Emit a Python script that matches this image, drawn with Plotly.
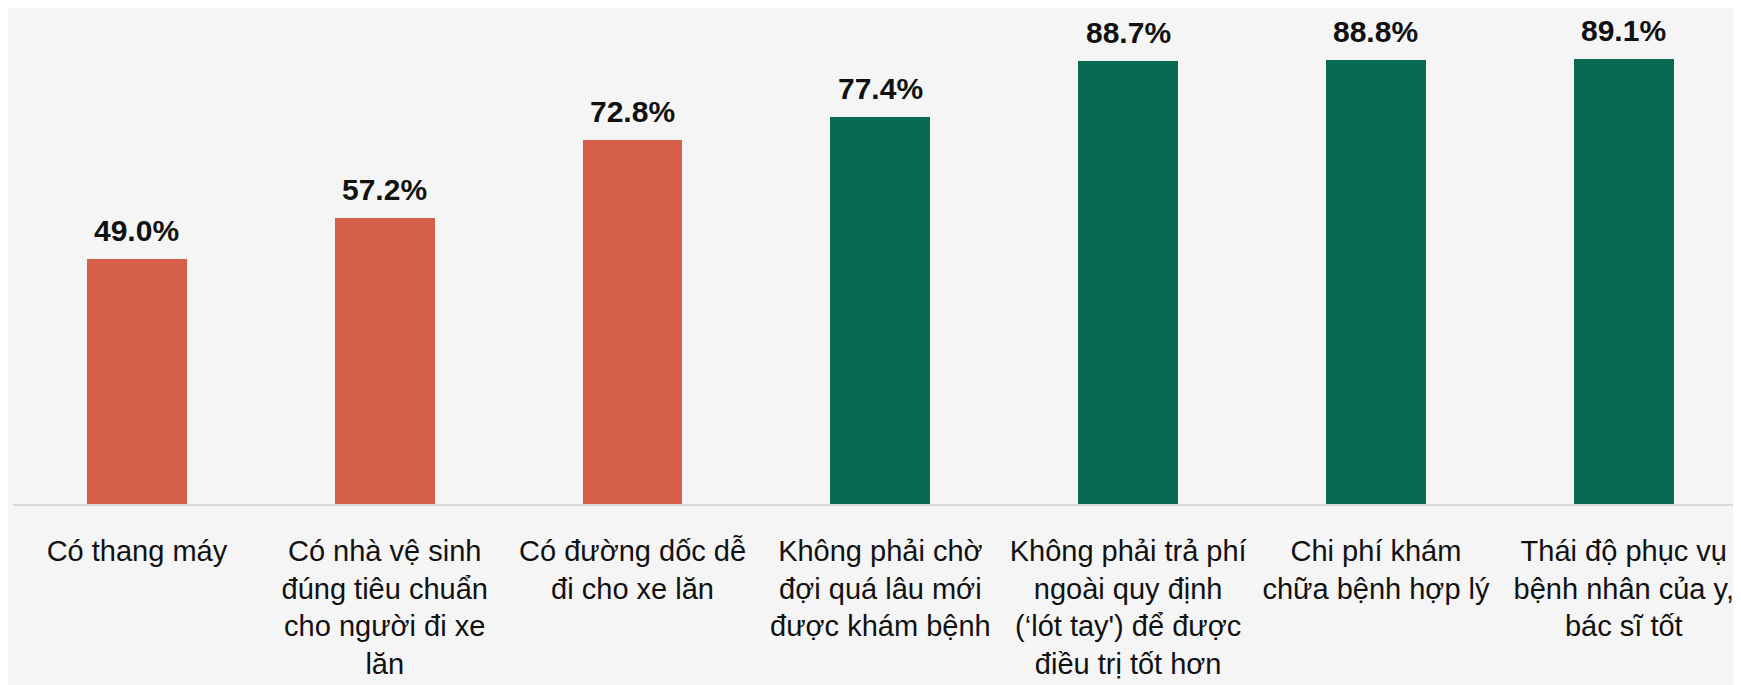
import plotly.graph_objects as go

categories = [
    "Có thang máy",
    "Có nhà vệ sinh<br>đúng tiêu chuẩn<br>cho người đi xe<br>lăn",
    "Có đường dốc dễ<br>đi cho xe lăn",
    "Không phải chờ<br>đợi quá lâu mới<br>được khám bệnh",
    "Không phải trả phí<br>ngoài quy định<br>(‘lót tay') để được<br>điều trị tốt hơn",
    "Chi phí khám<br>chữa bệnh hợp lý",
    "Thái độ phục vụ<br>bệnh nhân của y,<br>bác sĩ tốt",
]
values = [49.0, 57.2, 72.8, 77.4, 88.7, 88.8, 89.1]
groups = ["facility", "facility", "facility", "service", "service", "service", "service"]
group_colors = {"facility": "#D65F4A", "service": "#076B53"}

xs = list(range(len(categories)))
colors = [group_colors[g] for g in groups]

fig = go.Figure()
fig.add_trace(go.Bar(
    x=xs, y=values, width=0.403,
    marker=dict(color=colors, line=dict(width=0)),
    hoverinfo="skip",
))

for x, v in zip(xs, values):
    fig.add_annotation(
        x=x, y=v, text=f"<b>{v:.1f}%</b>", showarrow=False,
        xanchor="center", yanchor="bottom", yshift=11, borderpad=0,
        font=dict(family="Liberation Sans", size=30, color="#111111"),
    )

fig.update_layout(
    width=1733, height=677,
    margin=dict(l=5, r=0, t=0, b=181),
    paper_bgcolor="#F5F5F5", plot_bgcolor="#F5F5F5",
    showlegend=False, bargap=0,
    xaxis=dict(
        range=[-0.5, 6.473], tickmode="array", tickvals=xs, ticktext=categories,
        showline=True, linecolor="#D9D9D9", linewidth=2,
        showgrid=False, zeroline=False, ticks="",
        tickfont=dict(family="Liberation Sans", size=29, color="#111111"),
        ticklabelstandoff=20, fixedrange=True,
    ),
    yaxis=dict(range=[0, 99.2], visible=False, showgrid=False, zeroline=False, fixedrange=True),
)

fig.write_html("out.html")
